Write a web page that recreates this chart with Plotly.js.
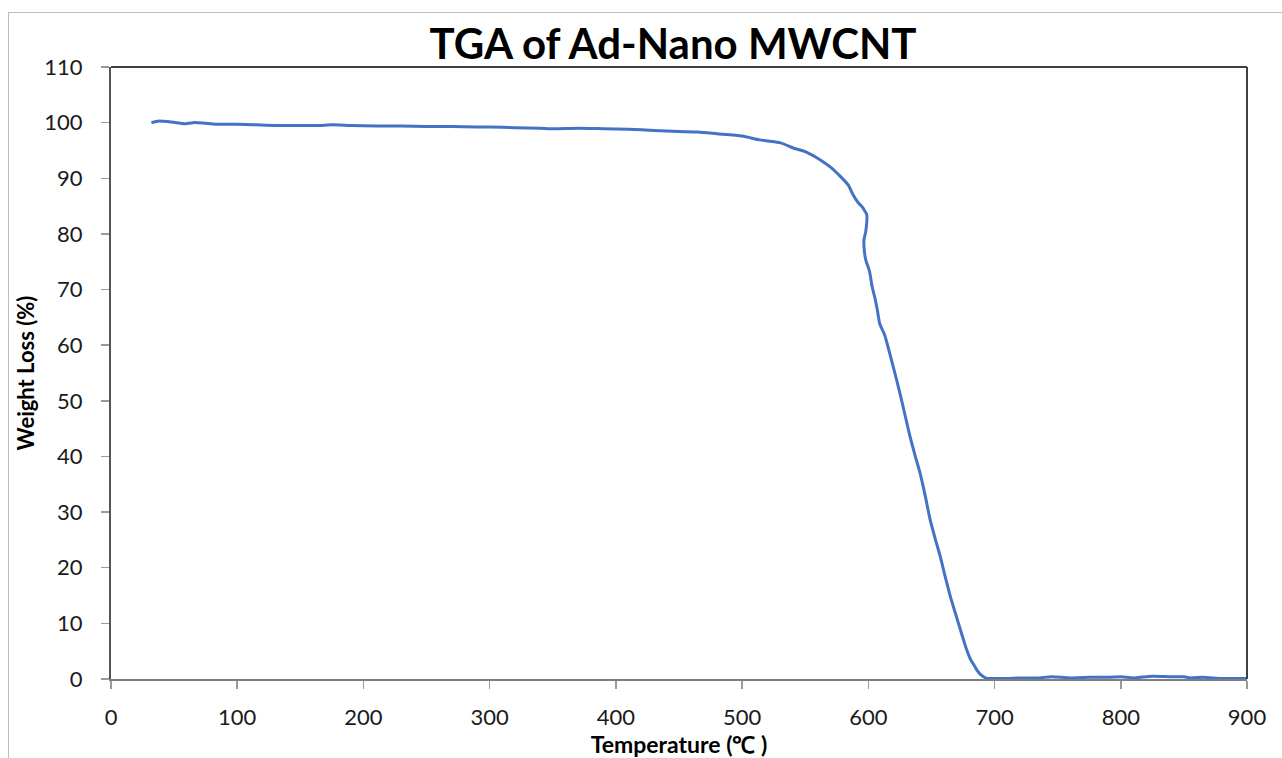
<!DOCTYPE html>
<html>
<head>
<meta charset="utf-8">
<script src="https://cdn.plot.ly/plotly-3.0.1.min.js"></script>
<style>
  html, body { margin: 0; padding: 0; background: #fff; overflow: hidden; }
  #frame { position: absolute; left: 8px; top: 12px; width: 1300px; height: 800px;
           border-left: 1.5px solid #bdbdbd; border-top: 1.5px solid #bdbdbd; }
  #chart { position: absolute; left: 0; top: 0; width: 1282px; height: 758px; }
</style>
</head>
<body>
<div id="frame"></div>
<div id="chart"></div>
<script>
const temperature = [32, 38, 45, 52, 58, 65, 75, 85, 100, 115, 130, 150, 165, 175, 190, 210, 230, 250, 270, 290, 300, 320, 340, 350, 370, 390, 410, 430, 450, 465, 480, 500, 514, 530, 541, 550, 562, 570, 578, 584, 588, 592, 595, 597, 598.7, 598, 596.5, 597, 598, 601, 603, 605, 607, 609, 613, 617, 621, 625, 629, 633, 637, 641, 645, 649, 653, 657, 661, 665, 669, 673, 676, 678, 681, 684, 686, 689, 692, 694, 700, 710, 720, 735, 745, 760, 775, 790, 800, 810, 825, 840, 850, 855, 865, 880, 900];
const weightLoss = [100.0, 100.3, 100.2, 100.0, 99.8, 100.0, 99.9, 99.7, 99.7, 99.6, 99.5, 99.5, 99.5, 99.6, 99.5, 99.4, 99.4, 99.3, 99.3, 99.2, 99.2, 99.1, 99.0, 98.9, 99.0, 98.9, 98.8, 98.6, 98.4, 98.3, 98.0, 97.6, 96.9, 96.4, 95.4, 94.8, 93.3, 92.0, 90.3, 88.8, 87.0, 85.6, 84.9, 84.2, 83.5, 80.5, 78.9, 76.6, 75.3, 73.2, 70.5, 68.7, 66.5, 63.9, 61.8, 58.5, 55.0, 51.4, 47.5, 43.6, 40.2, 37.0, 33.0, 28.6, 25.2, 22.0, 18.3, 14.8, 11.8, 8.8, 6.6, 5.2, 3.5, 2.4, 1.6, 0.8, 0.3, 0.1, 0.1, 0.1, 0.2, 0.2, 0.4, 0.2, 0.3, 0.3, 0.4, 0.2, 0.5, 0.4, 0.4, 0.2, 0.3, 0.1, 0.1];
const xTicks = [0, 100, 200, 300, 400, 500, 600, 700, 800, 900];
const yTicks = [0, 10, 20, 30, 40, 50, 60, 70, 80, 90, 100, 110];

const fontFam = 'Lato, "Open Sans", sans-serif';

Plotly.newPlot('chart', [{
  x: temperature,
  y: weightLoss,
  type: 'scatter',
  mode: 'lines',
  line: { color: '#4472C4', width: 3, shape: 'spline', smoothing: 0.6 },
  hoverinfo: 'skip'
}], {
  width: 1282,
  height: 758,
  paper_bgcolor: 'rgba(0,0,0,0)',
  plot_bgcolor: '#fff',
  margin: { l: 111, r: 35, t: 67, b: 79 },
  showlegend: false,
  title: {
    text: '<b>TGA of Ad-Nano MWCNT</b>',
    font: { family: fontFam, size: 42, color: '#000' },
    x: 0.525, xanchor: 'center', y: 0.942, yanchor: 'middle'
  },
  xaxis: {
    range: [0, 900],
    tickvals: xTicks,
    ticktext: xTicks.map(String),
    showgrid: false, zeroline: false,
    showline: true, linecolor: '#7f7f7f', linewidth: 2,
    mirror: false,
    ticks: 'outside', ticklen: 8, tickcolor: '#9a9a9a', tickwidth: 1.5,
    ticklabelstandoff: 10,
    tickfont: { family: fontFam, size: 22, color: '#1a1a1a' },
    title: { text: '<b>Temperature (℃ )</b>', font: { family: fontFam, size: 23, color: '#000' }, standoff: 4 }
  },
  yaxis: {
    range: [0, 110],
    tickvals: yTicks,
    ticktext: yTicks.map(String),
    showgrid: false, zeroline: false,
    showline: true, linecolor: '#555', linewidth: 2,
    mirror: false,
    ticks: 'outside', ticklen: 8, tickcolor: '#9a9a9a', tickwidth: 1.5,
    ticklabelstandoff: 14,
    tickfont: { family: fontFam, size: 22, color: '#1a1a1a' },
    title: { text: '<b>Weight Loss (%)</b>', font: { family: fontFam, size: 22, color: '#000' }, standoff: 4 }
  },
  shapes: [
    { type: 'line', xref: 'paper', yref: 'paper', x0: 0, x1: 1, y0: 1, y1: 1, line: { color: '#404040', width: 2 } },
    { type: 'line', xref: 'paper', yref: 'paper', x0: 1, x1: 1, y0: 0, y1: 1, line: { color: '#404040', width: 2 } }
  ]
}, { displayModeBar: false, staticPlot: true });
</script>
</body>
</html>
